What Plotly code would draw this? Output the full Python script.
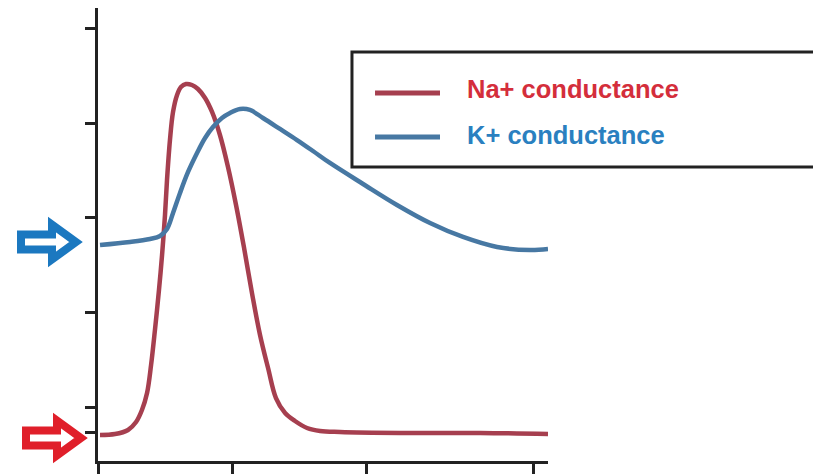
import plotly.graph_objects as go

# Na+ conductance (time units, conductance units)
na_t = [0.015, 0.127, 0.224, 0.284, 0.328, 0.366, 0.396, 0.425, 0.455, 0.478, 0.500, 0.515, 0.537,
        0.560, 0.590, 0.619, 0.657, 0.701, 0.746, 0.799, 0.851, 0.910, 0.970, 1.030, 1.090, 1.149,
        1.209, 1.269, 1.328, 1.396, 1.470, 1.560, 1.657, 1.806, 2.254, 2.851, 3.358]
na_g = [0.704, 0.714, 0.757, 0.841, 0.968, 1.148, 1.444, 1.815, 2.238, 2.608, 3.032, 3.402, 3.825,
        4.122, 4.302, 4.386, 4.418, 4.407, 4.365, 4.270, 4.122, 3.878, 3.540, 3.138, 2.683, 2.206,
        1.762, 1.413, 1.095, 0.937, 0.852, 0.778, 0.746, 0.735, 0.725, 0.725, 0.714]

# K+ conductance
k_t = [0.015, 0.239, 0.388, 0.463, 0.515, 0.560, 0.612, 0.672, 0.739, 0.799, 0.858, 0.925, 0.985,
       1.060, 1.134, 1.231, 1.358, 1.485, 1.604, 1.731, 1.978, 2.231, 2.478, 2.724, 2.978, 3.224, 3.358]
k_g = [2.714, 2.746, 2.778, 2.810, 2.884, 3.053, 3.265, 3.487, 3.688, 3.847, 3.963, 4.058, 4.111,
       4.153, 4.143, 4.058, 3.942, 3.825, 3.709, 3.582, 3.360, 3.138, 2.947, 2.799, 2.693, 2.661, 2.672]

x_ticks = [0, 1, 2, 3.25]
y_ticks = [0.725, 1, 2, 3, 4, 5]
series_names = ["Na+ conductance", "K+ conductance"]
k_rest = 2.746
na_rest = 0.672

X_RANGE = [0, 3.358]
Y_RANGE = [0.4286, 5.222]

RED_LINE = "#a63f4f"
BLUE_LINE = "#4778a3"
RED_TEXT = "#d42e3b"
BLUE_TEXT = "#2a80c0"
RED_ARROW = "#e01f2a"
BLUE_ARROW = "#1b78c0"

fig = go.Figure()
fig.add_trace(go.Scatter(x=na_t, y=na_g, mode="lines", name=series_names[0],
                         line=dict(color=RED_LINE, width=4.5, shape="spline", smoothing=1.0),
                         showlegend=False))
fig.add_trace(go.Scatter(x=k_t, y=k_g, mode="lines", name=series_names[1],
                         line=dict(color=BLUE_LINE, width=4.5, shape="spline", smoothing=1.0),
                         showlegend=False))


def ypaper(v):
    return (v - Y_RANGE[0]) / (Y_RANGE[1] - Y_RANGE[0])


shapes = []
# legend box
shapes.append(dict(type="rect", xref="paper", yref="paper", x0=0.5644, x1=1.65, y0=0.649, y1=0.9029,
                   line=dict(color="#222", width=3), fillcolor="rgba(255,255,255,0)"))
shapes.append(dict(type="line", xref="paper", yref="paper", x0=0.6156, x1=0.76, y0=0.8124, y1=0.8124,
                   line=dict(color=RED_LINE, width=5)))
shapes.append(dict(type="line", xref="paper", yref="paper", x0=0.6156, x1=0.76, y0=0.7152, y1=0.7152,
                   line=dict(color=BLUE_LINE, width=5)))

arrow_path = "M -77,-7.5 L -46,-7.5 L -46,-17.5 L -22,0 L -46,17.5 L -46,7.5 L -77,7.5 Z"
shapes.append(dict(type="path", xref="paper", yref="paper", xsizemode="pixel", ysizemode="pixel",
                   xanchor=0, yanchor=ypaper(k_rest), path=arrow_path,
                   line=dict(color=BLUE_ARROW, width=8), fillcolor="white"))
arrow_path2 = "M -72,-7.5 L -41,-7.5 L -41,-17.5 L -17,0 L -41,17.5 L -41,7.5 L -72,7.5 Z"
shapes.append(dict(type="path", xref="paper", yref="paper", xsizemode="pixel", ysizemode="pixel",
                   xanchor=0, yanchor=ypaper(na_rest), path=arrow_path2,
                   line=dict(color=RED_ARROW, width=8), fillcolor="white"))

annotations = [
    dict(xref="paper", yref="paper", x=0.8156, y=0.821, xanchor="left", yanchor="middle",
         text="<b>" + series_names[0] + "</b>", showarrow=False,
         font=dict(family="Liberation Sans, Arial", size=25.5, color=RED_TEXT)),
    dict(xref="paper", yref="paper", x=0.8156, y=0.7196, xanchor="left", yanchor="middle",
         text="<b>" + series_names[1] + "</b>", showarrow=False,
         font=dict(family="Liberation Sans, Arial", size=25.5, color=BLUE_TEXT)),
]

fig.update_layout(
    width=813, height=466,
    margin=dict(l=90, r=273, t=0, b=13, pad=0),
    paper_bgcolor="white", plot_bgcolor="white",
    shapes=shapes, annotations=annotations,
    xaxis=dict(range=X_RANGE, showgrid=False, zeroline=False, showline=True, linecolor="#222",
               linewidth=2.5, ticks="outside", ticklen=13, tickwidth=2.5, tickcolor="#222",
               tickvals=x_ticks, showticklabels=False),
    yaxis=dict(range=Y_RANGE, showgrid=False, zeroline=False, showline=True, linecolor="#222",
               linewidth=2.5, ticks="outside", ticklen=10, tickwidth=2.5, tickcolor="#222",
               tickvals=y_ticks, showticklabels=False),
)

fig.write_html("out.html")
